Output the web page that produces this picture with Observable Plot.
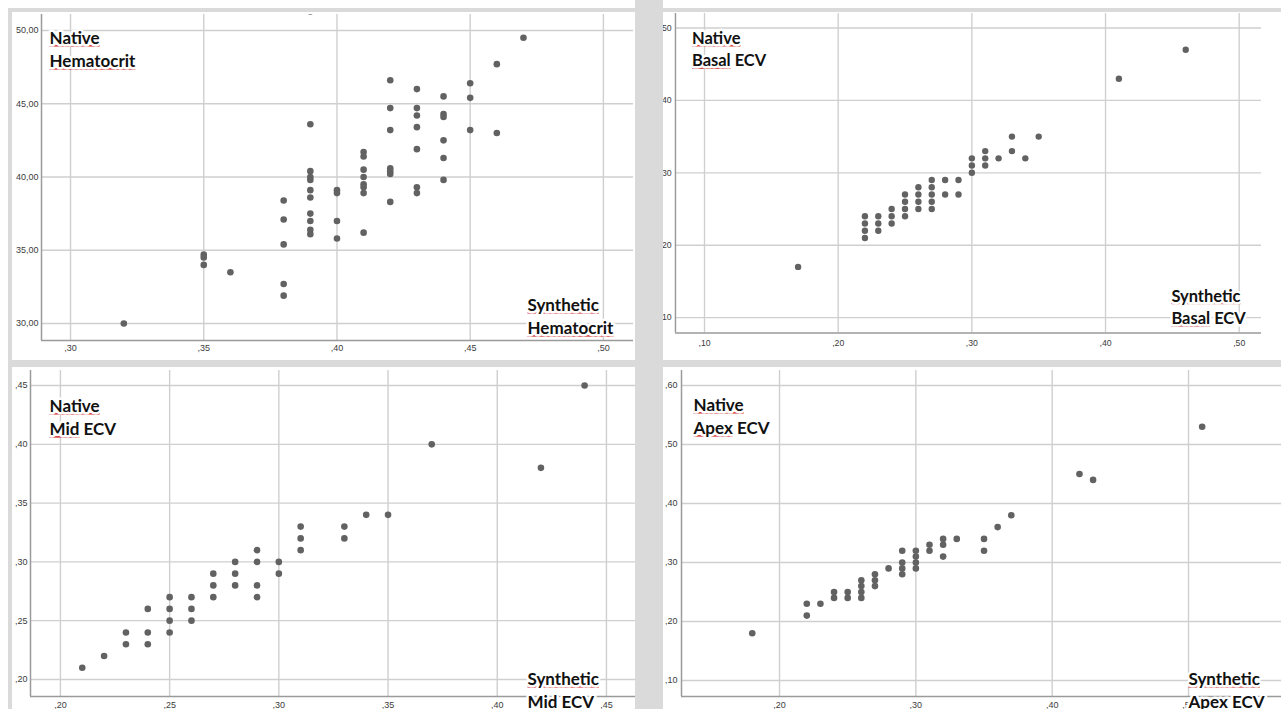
<!DOCTYPE html>
<html><head><meta charset="utf-8">
<script src="https://cdn.jsdelivr.net/npm/d3@7"></script>
<script src="https://cdn.jsdelivr.net/npm/@observablehq/plot@0.6"></script>
<style>
html,body{margin:0;padding:0;background:#fff;}
body{width:1281px;height:709px;position:relative;overflow:hidden;}
.band{position:absolute;background:#dadada;}
.panel{position:absolute;overflow:hidden;background:#fff;}
.panel svg{position:absolute;top:0;overflow:visible;}
</style>
</head><body>
<div class="band" style="left:8px;top:8px;width:1273px;height:4px"></div>
<div class="band" style="left:8px;top:8px;width:4px;height:701px"></div>
<div class="band" style="left:635px;top:0;width:28px;height:709px"></div>
<div class="band" style="left:8px;top:360px;width:1273px;height:7px"></div>
<div id="p1" class="panel" style="left:13px;top:12px;width:622px;height:348px"></div>
<div id="p2" class="panel" style="left:663px;top:12px;width:618px;height:348px"></div>
<div id="p3" class="panel" style="left:13px;top:367px;width:622px;height:342px"></div>
<div id="p4" class="panel" style="left:663px;top:367px;width:618px;height:342px"></div>
<script>
// ---- Data ----
const hctSynthetic = [0.32, 0.35,0.35,0.35, 0.36, 0.38,0.38,0.38,0.38,0.38,
  0.39,0.39,0.39,0.39,0.39,0.39,0.39,0.39,0.39,0.39,0.39,
  0.40,0.40,0.40,0.40,
  0.41,0.41,0.41,0.41,0.41,0.41,0.41,0.41,
  0.42,0.42,0.42,0.42,0.42,0.42,0.42,
  0.43,0.43,0.43,0.43,0.43,0.43,0.43,
  0.44,0.44,0.44,0.44,0.44,0.44,
  0.45,0.45,0.45, 0.46,0.46, 0.47];
const hctNative = [30.0, 34.7,34.5,34.0, 33.5, 38.4,37.1,35.4,32.7,31.9,
  51.3,43.6,40.4,40.0,39.8,39.1,38.6,37.5,37.0,36.4,36.1,
  39.1,38.9,37.0,35.8,
  41.7,41.4,40.5,40.0,39.5,39.3,38.9,36.2,
  46.6,44.7,43.2,40.6,40.4,40.2,38.3,
  46.0,44.7,44.2,43.4,41.9,39.3,38.9,
  45.5,44.3,44.1,42.5,41.3,39.8,
  46.4,45.4,43.2, 47.7,43.0, 49.5];

const basalSynthetic = [0.17, 0.22,0.22,0.22,0.22, 0.23,0.23,0.23, 0.24,0.24,0.24,
  0.25,0.25,0.25,0.25, 0.26,0.26,0.26,0.26, 0.27,0.27,0.27,0.27,0.27,
  0.28,0.28, 0.29,0.29, 0.30,0.30,0.30, 0.31,0.31,0.31, 0.32, 0.33,0.33, 0.34, 0.35, 0.41, 0.46];
const basalNative = [0.17, 0.24,0.23,0.22,0.21, 0.24,0.23,0.22, 0.25,0.24,0.23,
  0.27,0.26,0.25,0.24, 0.28,0.27,0.26,0.25, 0.29,0.28,0.27,0.26,0.25,
  0.29,0.27, 0.29,0.27, 0.32,0.31,0.30, 0.33,0.32,0.31, 0.32, 0.35,0.33, 0.32, 0.35, 0.43, 0.47];

const midSynthetic = [0.21, 0.22, 0.23,0.23, 0.24,0.24,0.24, 0.25,0.25,0.25,0.25,
  0.26,0.26,0.26, 0.27,0.27,0.27, 0.28,0.28,0.28, 0.29,0.29,0.29,0.29,
  0.30,0.30, 0.31,0.31,0.31, 0.33,0.33, 0.34, 0.35, 0.37, 0.42, 0.44];
const midNative = [0.21, 0.22, 0.24,0.23, 0.26,0.24,0.23, 0.27,0.26,0.25,0.24,
  0.27,0.26,0.25, 0.29,0.28,0.27, 0.30,0.29,0.28, 0.31,0.30,0.28,0.27,
  0.30,0.29, 0.33,0.32,0.31, 0.33,0.32, 0.34, 0.34, 0.40, 0.38, 0.45];

const apexSynthetic = [0.18, 0.22,0.22, 0.23, 0.24,0.24, 0.25,0.25, 0.26,0.26,0.26,0.26,
  0.27,0.27,0.27, 0.28, 0.29,0.29,0.29,0.29, 0.30,0.30,0.30,0.30,
  0.31,0.31, 0.32,0.32,0.32, 0.33, 0.35,0.35, 0.36, 0.37, 0.42, 0.43, 0.51];
const apexNative = [0.18, 0.23,0.21, 0.23, 0.25,0.24, 0.25,0.24, 0.27,0.26,0.25,0.24,
  0.28,0.27,0.26, 0.29, 0.32,0.30,0.29,0.28, 0.32,0.31,0.30,0.29,
  0.33,0.32, 0.34,0.33,0.31, 0.34, 0.34,0.32, 0.36, 0.38, 0.45, 0.44, 0.53];

// tick values
const hctXTicks = [0.30, 0.35, 0.40, 0.45, 0.50];
const hctYTicks = [30, 35, 40, 45, 50];
const basalXTicks = [0.10, 0.20, 0.30, 0.40, 0.50];
const basalYTicks = [0.10, 0.20, 0.30, 0.40, 0.50];
const midXTicks = [0.20, 0.25, 0.30, 0.35, 0.40, 0.45];
const midYTicks = [0.20, 0.25, 0.30, 0.35, 0.40, 0.45];
const apexXTicks = [0.20, 0.30, 0.40, 0.50];
const apexYTicks = [0.10, 0.20, 0.30, 0.40, 0.50, 0.60];

// labels
const labelsNative = ["Native\nHematocrit", "Native\nBasal ECV", "Native\nMid ECV", "Native\nApex ECV"];
const labelsSynthetic = ["Synthetic\nHematocrit", "Synthetic\nBasal ECV", "Synthetic\nMid ECV", "Synthetic\nApex ECV"];
const underlinedWords = new Set(["Native", "Hematocrit", "Basal", "Mid", "Apex", "Synthetic"]);

// ---- formats ----
const fmtDec = d => d.toFixed(2).replace(/^0\./, ",");
const fmtHct = d => d.toFixed(2).replace(".", ",");

function makePanel(cfg) {
  const pts = cfg.xs.map((x, i) => ({x, y: cfg.ys[i]}));
  const axisStyle = {tickSize: 0, fontSize: 9, fontFamily: "Liberation Sans, Arial, sans-serif", fill: "#3c3c3c", label: null};
  const chart = Plot.plot({
    width: cfg.width, height: cfg.height,
    marginLeft: cfg.ml, marginRight: cfg.mr, marginTop: cfg.mt, marginBottom: cfg.mb,
    x: {domain: cfg.xDomain, label: null}, y: {domain: cfg.yDomain, label: null},
    style: {background: "transparent", overflow: "visible"},
    marks: [
      Plot.gridX(cfg.xTicks, {stroke: "#cfcfcf", strokeOpacity: 1, strokeWidth: 1.4}),
      Plot.gridY(cfg.yTicks, {stroke: "#cfcfcf", strokeOpacity: 1, strokeWidth: 1.4}),
      Plot.ruleX([cfg.xDomain[0]], {stroke: "#9a9a9a", strokeWidth: 1.5}),
      Plot.ruleY([cfg.yDomain[0]], {stroke: "#9a9a9a", strokeWidth: 1.5}),
      Plot.dot(pts, {x: "x", y: "y", r: 3.3, fill: "#626262", stroke: "none", clip: true}),
      Plot.axisX(cfg.xTicks, {...axisStyle, tickPadding: cfg.xPad, tickFormat: cfg.xFmt}),
      Plot.axisY(cfg.yTicks, {...axisStyle, tickPadding: cfg.yPad, tickFormat: cfg.yFmt}),
      Plot.text([cfg.topLabel], {text: d => d, frameAnchor: "top-left", textAnchor: "start", lineAnchor: "top",
        dx: cfg.topDx, dy: cfg.topDy, fontSize: 17, fontWeight: 700, fontFamily: "Lato, sans-serif",
        lineHeight: 1.36, fill: "#111", stroke: "white", strokeWidth: 5, paintOrder: "stroke", className: "lbl"}),
      Plot.text([cfg.bottomLabel], {text: d => d, frameAnchor: "bottom-right", textAnchor: "start", lineAnchor: "top",
        dx: cfg.botDx, dy: cfg.botDy, fontSize: 17, fontWeight: 700, fontFamily: "Lato, sans-serif",
        lineHeight: 1.36, fill: "#111", stroke: "white", strokeWidth: 5, paintOrder: "stroke", className: "lbl"})
    ]
  });
  chart.style.left = cfg.svgLeft + "px";
  // spell-check style wavy underline on selected words
  chart.querySelectorAll(".lbl text").forEach(t => {
    const lines = t.querySelectorAll("tspan").length ? Array.from(t.querySelectorAll("tspan")) : [t];
    lines.forEach(line => {
      const words = line.textContent.split(" ");
      line.textContent = "";
      words.forEach((w, i) => {
        const outer = document.createElementNS("http://www.w3.org/2000/svg", "tspan");
        if (underlinedWords.has(w)) {
          outer.setAttribute("style", "text-decoration: underline wavy; text-decoration-color:#d64545; fill:#d64545; stroke:none;");
          const inner = document.createElementNS("http://www.w3.org/2000/svg", "tspan");
          inner.setAttribute("style", "fill:#111; stroke:white; text-decoration:none;");
          inner.textContent = w;
          outer.appendChild(inner);
        } else {
          outer.textContent = w;
        }
        line.appendChild(outer);
        if (i < words.length - 1) line.appendChild(document.createTextNode(" "));
      });
    });
  });
  document.getElementById(cfg.id).appendChild(chart);
}

makePanel({id: "p1", svgLeft: 0, width: 622, height: 348, ml: 28, mr: 2, mt: 2, mb: 20,
  xDomain: [0.2891, 0.5113], yDomain: [28.84, 51.09], xTicks: hctXTicks, yTicks: hctYTicks,
  xFmt: fmtDec, yFmt: fmtHct, xPad: 4.5, yPad: 3, xs: hctSynthetic, ys: hctNative,
  topLabel: labelsNative[0], bottomLabel: labelsSynthetic[0], topDx: 8, topDy: 13, botDx: -106, botDy: -46});

makePanel({id: "p2", svgLeft: -20, width: 638, height: 348, ml: 33, mr: 0, mt: 1, mb: 17,
  xDomain: [0.07826, 0.51667], yDomain: [0.0786, 0.5201], xTicks: basalXTicks, yTicks: basalYTicks,
  xFmt: fmtDec, yFmt: fmtDec, xPad: 6.5, yPad: 4, xs: basalSynthetic, ys: basalNative,
  topLabel: labelsNative[1], bottomLabel: labelsSynthetic[1], topDx: 17, topDy: 15, botDx: -93, botDy: -49});

makePanel({id: "p3", svgLeft: 0, width: 622, height: 342, ml: 17, mr: 0, mt: 3, mb: 13,
  xDomain: [0.1863, 0.4633], yDomain: [0.1855, 0.4628], xTicks: midXTicks, yTicks: midYTicks,
  xFmt: fmtDec, yFmt: fmtDec, xPad: 5.5, yPad: 3, xs: midSynthetic, ys: midNative,
  topLabel: labelsNative[2], bottomLabel: labelsSynthetic[2], topDx: 19, topDy: 25, botDx: -108, botDy: -28});

makePanel({id: "p4", svgLeft: 0, width: 618, height: 342, ml: 18, mr: 0, mt: 3, mb: 13,
  xDomain: [0.1281, 0.5682], yDomain: [0.0729, 0.6254], xTicks: apexXTicks, yTicks: apexYTicks,
  xFmt: fmtDec, yFmt: fmtDec, xPad: 5.5, yPad: 4, xs: apexSynthetic, ys: apexNative,
  topLabel: labelsNative[3], bottomLabel: labelsSynthetic[3], topDx: 12, topDy: 24, botDx: -93, botDy: -28});
</script>
</body></html>
